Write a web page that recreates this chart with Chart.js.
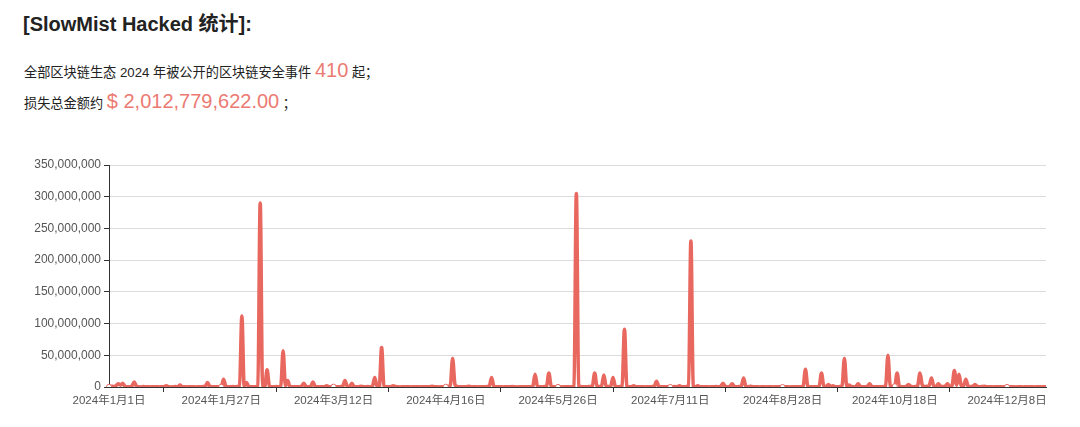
<!DOCTYPE html>
<html>
<head>
<meta charset="utf-8">
<script src="https://cdn.jsdelivr.net/npm/chart.js@4"></script>
<style>
  body { margin: 0; width: 1080px; height: 427px; background: #fff; position: relative; overflow: hidden;
         font-family: "Liberation Sans", "Noto Sans CJK SC", sans-serif; color: #222; }
  .title { position: absolute; left: 23px; top: 8px; font-size: 20px; font-weight: bold; font-family: "Liberation Sans", "Noto Sans CJK SC", sans-serif; }
  .line { position: absolute; left: 24px; font-size: 13.2px; }
  .red { color: #ec7a72; font-size: 20px; }
  #wrap { position: absolute; left: 0; top: 150px; width: 1080px; height: 277px; }
</style>
</head>
<body>
<div class="title">[SlowMist Hacked 统计]:</div>
<div class="line" style="top:59px">全部区块链生态 2024 年被公开的区块链安全事件 <span class="red">410</span> 起；</div>
<div class="line" style="top:90px">损失总金额约 <span class="red">$ 2,012,779,622.00</span> ；</div>
<div id="wrap"><canvas id="hackChart"></canvas></div>
<script>
// one entry per public incident, loss in millions of USD
const lossesMillion = [
  0.3, 1.2, 0.8, 2, 5, 3, 6, 0.9, 0.4, 0.2,
  1.5, 8, 1.1, 0.3, 0.1, 0.6, 0.2, 0.4, 0.1, 0.3,
  0.2, 0.5, 0.1, 0.3, 0.2, 2, 0.4, 0.1, 0.2, 0.6,
  0.3, 3, 0.4, 0.2, 0.1, 0.3, 0.5, 0.2, 0.1, 0.4,
  0.2, 0.6, 1.3, 7, 1, 0.3, 0.2, 0.5, 0.1, 0.4,
  12, 1.4, 0.3, 0.2, 0.6, 0.2, 0.8, 1.5, 112, 1.2,
  7, 0.9, 0.3, 0.5, 0.2, 1.1, 290, 1.3, 0.8, 27,
  1.6, 0.4, 0.2, 0.6, 0.3, 1.2, 57, 2.1, 10, 0.7,
  0.3, 0.5, 0.2, 0.4, 1, 6, 0.8, 0.2, 0.6, 8,
  0.9, 0.3, 0.2, 0.5, 0.4, 2, 0.3, 0.1, 0.6, 0.4,
  0.2, 0.5, 1.3, 10, 1.1, 0.7, 6, 0.5, 0.2, 0.3,
  1, 0.4, 0.2, 0.6, 0.3, 1.4, 15, 1.2, 0.9, 62,
  1.3, 0.5, 0.2, 0.4, 2, 0.6, 0.3, 0.1, 0.2, 0.5,
  0.3, 0.2, 0.1, 0.4, 0.2, 0.3, 0.1, 0.5, 0.2, 0.3,
  0.4, 1, 0.3, 0.2, 0.1, 0.3, 0.2, 0.5, 0.8, 3,
  45, 4, 0.6, 0.3, 0.2, 0.4, 0.3, 1, 0.4, 0.2,
  0.3, 0.1, 0.5, 0.2, 0.4, 0.6, 1.2, 15, 1.1, 0.3,
  0.2, 0.5, 0.1, 0.3, 0.4, 0.2, 0.6, 0.3, 0.1, 0.2,
  0.4, 0.2, 0.3, 0.5, 0.2, 1.3, 20, 1.2, 0.4, 0.3,
  0.6, 1.1, 22, 1.4, 0.3, 0.5, 0.2, 0.4, 0.1, 0.3,
  0.5, 0.2, 0.4, 1.5, 305, 1.8, 0.6, 0.3, 0.2, 0.4,
  0.7, 1.4, 22, 1.3, 0.8, 1.2, 19, 1.1, 0.6, 1,
  15, 1.2, 0.4, 0.6, 1.5, 91, 1.7, 0.5, 0.3, 2,
  0.4, 0.2, 0.5, 0.3, 0.1, 0.4, 0.2, 0.6, 1.1, 9,
  1, 0.3, 0.2, 0.5, 0.3, 0.1, 0.4, 0.6, 0.3, 2,
  0.5, 0.3, 0.8, 1.6, 230, 1.9, 0.4, 2, 0.3, 0.2,
  0.5, 0.3, 0.1, 0.4, 0.2, 0.6, 0.3, 1, 6, 0.8,
  0.4, 1, 5, 0.9, 0.3, 0.6, 1.2, 14, 1.1, 0.4,
  1, 0.3, 0.2, 0.4, 0.1, 0.3, 0.2, 0.1, 0.3, 0.2,
  0.1, 0.3, 0.2, 0.4, 0.1, 0.2, 0.3, 0.1, 0.2, 0.4,
  0.2, 0.3, 0.5, 1.2, 28, 1.3, 0.4, 0.2, 0.3, 0.5,
  1.4, 22, 1.2, 0.8, 4, 0.9, 2, 0.5, 0.3, 0.6,
  1.5, 45, 1.4, 3, 0.8, 0.4, 0.9, 5, 0.7, 0.3,
  0.4, 0.9, 5, 0.8, 0.3, 0.2, 0.4, 0.3, 0.6, 1.3,
  50, 1.6, 0.7, 1.2, 22, 1.4, 0.5, 0.3, 0.9, 4,
  0.8, 0.4, 0.6, 2.5, 22, 3, 0.7, 1.1, 2, 14,
  1.8, 0.9, 5, 1.2, 0.8, 1.3, 5, 1, 2.2, 26,
  3, 20, 2.4, 1.6, 12, 1.4, 0.6, 1, 4, 0.9,
  0.4, 0.6, 1, 0.3, 0.2, 0.5, 0.1, 0.3, 0.2, 0.4,
  0.1, 0.3, 0.2, 0.1, 0.4, 0.2, 0.1, 0.3, 0.2, 0.1,
  0.2, 0.1, 0.3, 0.2, 0.1, 0.2, 0.4, 0.1, 0.2, 0.3
];

// dates shown on the axis, one every 49 incidents
const tickLabels = ['2024年1月1日', '2024年1月27日', '2024年3月12日', '2024年4月16日', '2024年5月26日',
                    '2024年7月11日', '2024年8月28日', '2024年10月18日', '2024年12月8日'];
const labelStep = 49;

const categories = lossesMillion.map((v, i) => (i % labelStep === 0 ? tickLabels[i / labelStep] || '' : ''));
const lossesUSD = lossesMillion.map(v => v * 1000000);

const red = '#e8685f';
const ctx = document.getElementById('hackChart').getContext('2d');
new Chart(ctx, {
  type: 'line',
  data: {
    labels: categories,
    datasets: [{
      data: lossesUSD,
      borderColor: red,
      borderWidth: 3.6,
      backgroundColor: '#fff',
      cubicInterpolationMode: 'monotone',
      pointRadius: c => (c.index % labelStep === 0 ? 2.5 : 0),
      pointBorderWidth: 1,
      pointBorderColor: red,
      pointBackgroundColor: '#fff',
      fill: false
    }]
  },
  options: {
    responsive: true,
    maintainAspectRatio: false,
    animation: false,
    layout: { padding: { top: 15, right: 34, left: 0, bottom: 0 } },
    plugins: { legend: { display: false }, tooltip: { enabled: false } },
    scales: {
      x: {
        afterFit: s => { s.height = 40; },
        border: { color: '#333' },
        grid: {
          drawOnChartArea: false,
          tickLength: 5,
          tickColor: c => (c.index % labelStep === 24 ? '#333' : 'rgba(0,0,0,0)')
        },
        ticks: {
          autoSkip: false,
          maxRotation: 0,
          padding: 2,
          color: '#555',
          font: { size: 11.5, family: '"Liberation Sans", "Noto Sans CJK SC", sans-serif' },
          callback: (v, i) => categories[i]
        }
      },
      y: {
        min: 0,
        max: 350000000,
        afterFit: s => { s.width = 109; },
        border: { color: '#333' },
        grid: { color: '#dcdcdc', tickColor: '#333', tickLength: 5 },
        ticks: {
          stepSize: 50000000,
          padding: 3,
          color: '#555',
          font: { size: 12, family: '"Liberation Sans", sans-serif' },
          callback: v => v.toLocaleString('en-US')
        }
      }
    }
  }
});
</script>
</body>
</html>
